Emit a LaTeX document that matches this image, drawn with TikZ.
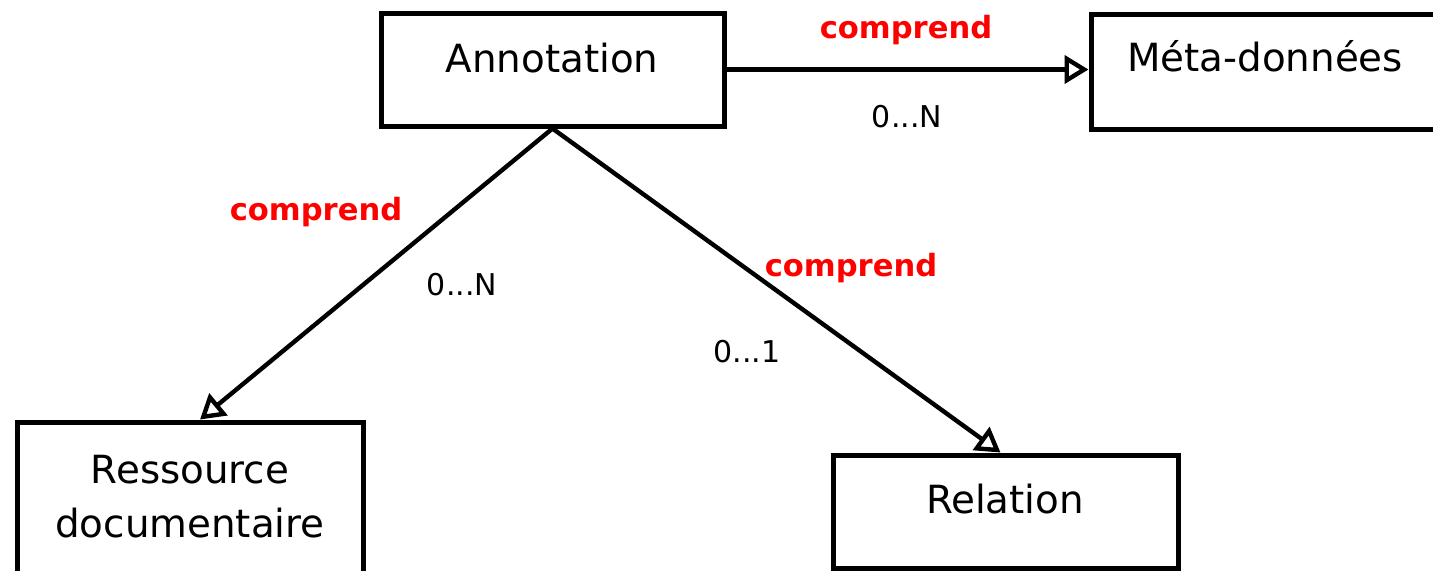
\documentclass[tikz,border=0pt]{standalone}
\usepackage{fontspec}
\setmainfont{DejaVu Sans}
\usetikzlibrary{arrows.meta}
\begin{document}
\begin{tikzpicture}[x=0.5pt,y=-0.5pt,
  box/.style={draw=black,line width=2.5pt,rectangle,inner sep=0pt,fill=white},
  boxtext/.style={inner sep=0pt,font=\fontsize{19.4}{27}\selectfont,align=center},
  rel/.style={inner sep=0pt,anchor=base,text=red,font=\bfseries\fontsize{15.3}{18}\selectfont},
  card/.style={inner sep=0pt,anchor=base,font=\fontsize{15}{18}\selectfont},
  conn/.style={draw=black,line width=2.2pt,-{Triangle[open,length=12pt,width=14pt,line width=2.2pt]}}]
\useasboundingbox[fill=white] (0,0) rectangle (1433,570);
% boxes
\node[box,minimum width=171.5pt,minimum height=56.5pt] (annot) at (552.5,69.5) {};
\node[box,minimum width=174pt,minimum height=57.5pt] (meta) at (1265,71.5) {};
\node[box,minimum width=173pt,minimum height=85pt] (res) at (190,507) {};
\node[box,minimum width=172.5pt,minimum height=56.5pt] (relbox) at (1005.5,511.5) {};
% box texts
\node[boxtext,anchor=base] (annotT) at (552,72) {Annotation};
\node[boxtext,anchor=base] (metaT) at (1265,71) {Méta-données};
\node[boxtext] (resT) at (190,497) {Ressource\\documentaire};
\node[boxtext,anchor=base] (relT) at (1005,513) {Relation};
% connectors
\draw[conn] (annot.east) -- (annot.east -| meta.west);
\draw[conn] (annot.south) -- ([xshift=5pt]res.north);
\draw[conn] (annot.south) -- ([xshift=-2.5pt]relbox.north);
% labels
\node[rel] (l1) at (906,38) {comprend};
\node[card] (c1) at (907,127) {0...N};
\node[rel] (l2) at (316,220) {comprend};
\node[card] (c2) at (462,295) {0...N};
\node[rel] (l3) at (851,276) {comprend};
\node[card] (c3) at (747,362) {0...1};
\end{tikzpicture}
\end{document}
